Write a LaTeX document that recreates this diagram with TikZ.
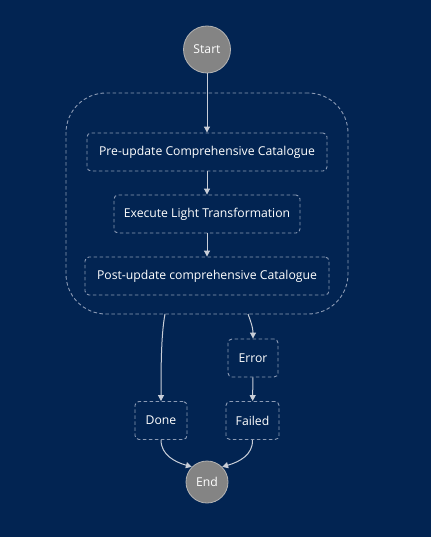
\documentclass[tikz,border=0pt]{standalone}
\usepackage{fontspec}
\setmainfont{Open Sans}
\usetikzlibrary{arrows.meta}
\definecolor{bg}{HTML}{022452}
\definecolor{dashc}{HTML}{8C9BB5}
\definecolor{linec}{HTML}{C9CED8}
\definecolor{circf}{HTML}{848484}
\definecolor{circd}{HTML}{B4B4B4}
\tikzset{
  statebox/.style={draw=dashc, dashed, dash pattern=on 3.5pt off 2.5pt, line width=0.9pt, rounded corners=4pt, fill=bg, text=white, font=\fontsize{12.2}{14}\selectfont, inner sep=0pt, minimum height=38pt},
  term/.style={circle, draw=circd, line width=0.8pt, fill=circf, text=white, font=\fontsize{12.2}{14}\selectfont, inner sep=0pt},
  conn/.style={draw=linec, line width=1pt, -{Triangle[length=6pt,width=6pt]}},
}
\begin{document}
\begin{tikzpicture}[x=1pt,y=-1pt]
\useasboundingbox[fill=bg] (0,0) rectangle (431,537);
\node[draw=dashc, dashed, dash pattern=on 3.5pt off 2.5pt, line width=0.9pt, rounded corners=40pt, minimum width=282pt, minimum height=221pt, inner sep=0pt] (cont) at (207,203.5) {};
\node[term, minimum size=47pt] (start) at (207,49.5) {Start};
\node[statebox, minimum width=240pt] (pre) at (207,152) {Pre-update Comprehensive Catalogue};
\node[statebox, minimum width=186pt] (exe) at (207,214) {Execute Light Transformation};
\node[statebox, minimum width=244pt] (post) at (207,276) {Post-update comprehensive Catalogue};
\node[statebox, minimum width=50pt] (err) at (253,358) {Error};
\node[statebox, minimum width=52pt] (done) at (161,420.5) {Done};
\node[statebox, minimum width=53pt] (fail) at (252.5,420.5) {Failed};
\node[term, minimum size=42pt] (end) at (207,482) {End};
\coordinate (c1) at (165,314);
\coordinate (c2) at (248,314);
\draw[conn] (start) -- (pre);
\draw[conn] (pre) -- (exe);
\draw[conn] (exe) -- (post);
\draw[conn] (c1) .. controls (161,335) and (161,370) .. (done.north);
\draw[conn] (c2) .. controls (251,322) and (253,328) .. (err.north);
\draw[conn] (err) -- (fail);
\draw[conn] (done.south) .. controls (161,455) and (175,462) .. (end.north west);
\draw[conn] (fail.south) .. controls (253,455) and (239,462) .. (end.north east);
\end{tikzpicture}
\end{document}
